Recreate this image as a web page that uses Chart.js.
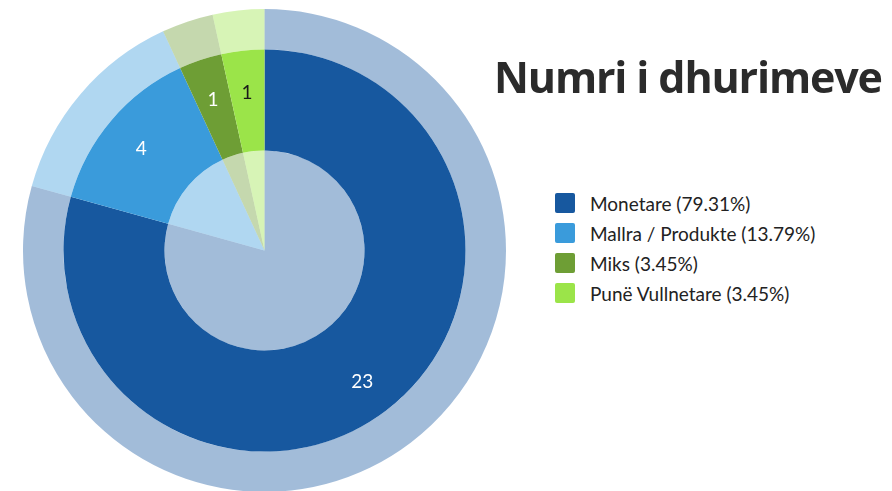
<!DOCTYPE html>
<html>
<head>
<meta charset="utf-8">
<script src="https://cdn.jsdelivr.net/npm/chart.js@4/dist/chart.umd.min.js"></script>
<style>
  html, body { margin: 0; padding: 0; background: #fff; }
  body { width: 892px; height: 491px; overflow: hidden; position: relative; font-family: Lato, "Open Sans", sans-serif; }
  #pie-wrap { position: absolute; left: 23px; top: 9px; width: 483px; height: 483px; }
  #title { position: absolute; left: 494px; top: 55px; margin: 0; font-family: "Open Sans", sans-serif; font-weight: 700; font-size: 43px; line-height: 44px; color: #2b2b2b; white-space: nowrap; }
  #legend { position: absolute; left: 555px; top: 188px; margin: 0; padding: 0; list-style: none; }
  #legend li { display: flex; align-items: center; height: 30px; font-size: 19px; color: #222; white-space: nowrap; }
  #legend .box { width: 20px; height: 20px; border-radius: 2px; margin-right: 15px; }
</style>
</head>
<body>
<div id="pie-wrap"><canvas id="pie"></canvas></div>
<h1 id="title">Numri i dhurimeve</h1>
<ul id="legend"></ul>
<script>
// --- të dhënat ---
const categories = ["Monetare", "Mallra / Produkte", "Miks", "Punë Vullnetare"];
const counts = [23, 4, 1, 1];
const colors = ["#17589f", "#3a9bdb", "#6e9e35", "#9be449"];
const labelColors = ["#ffffff", "#ffffff", "#ffffff", "#1a1a1a"];

const total = counts.reduce((a, b) => a + b, 0);

function pale(hex, a) {
  const n = parseInt(hex.slice(1), 16);
  return `rgba(${n >> 16},${(n >> 8) & 255},${n & 255},${a})`;
}
const paleColors = colors.map(c => pale(c, 0.4));

// titulli: përshtatet që të zërë të njëjtën gjerësi si në origjinal
const title = document.getElementById("title");
const titleWidth = 389;
const w0 = title.getBoundingClientRect().width;
title.style.letterSpacing = ((titleWidth - w0) / (title.textContent.length - 1)) + "px";

// legjenda
document.getElementById("legend").innerHTML = categories.map((c, i) => `
  <li><span class="box" style="background:${colors[i]}"></span>${c} (${(counts[i] / total * 100).toFixed(2)}%)</li>
`).join("");

// etiketat e vlerave mbi unazën e mesme
const valueLabels = {
  id: "valueLabels",
  afterDatasetsDraw(chart) {
    const meta = chart.getDatasetMeta(1);
    const ctx = chart.ctx;
    ctx.save();
    ctx.font = "19px Lato, sans-serif";
    ctx.textAlign = "center";
    ctx.textBaseline = "middle";
    meta.data.forEach((arc, i) => {
      const { x, y, startAngle, endAngle, innerRadius, outerRadius } = arc.getProps(["x", "y", "startAngle", "endAngle", "innerRadius", "outerRadius"], true);
      const a = (startAngle + endAngle) / 2;
      const r = innerRadius + (outerRadius - innerRadius) * 0.61;
      ctx.fillStyle = labelColors[i];
      ctx.fillText(String(counts[i]), x + Math.cos(a) * r, y + Math.sin(a) * r + 3);
    });
    ctx.restore();
  },
};

const ring = (bg, weight) => ({
  data: counts,
  backgroundColor: bg,
  borderWidth: 0,
  hoverOffset: 0,
  weight,
});

new Chart(document.getElementById("pie"), {
  type: "doughnut",
  data: {
    labels: categories,
    datasets: [
      ring(paleColors, 40.5),
      ring(colors, 101),
      ring(paleColors, 100),
    ],
  },
  options: {
    responsive: true,
    maintainAspectRatio: false,
    animation: false,
    events: [],
    cutout: 0,
    layout: { padding: 0 },
    plugins: {
      legend: { display: false },
      tooltip: { enabled: false },
      title: { display: false },
    },
  },
  plugins: [valueLabels],
});
</script>
</body>
</html>
